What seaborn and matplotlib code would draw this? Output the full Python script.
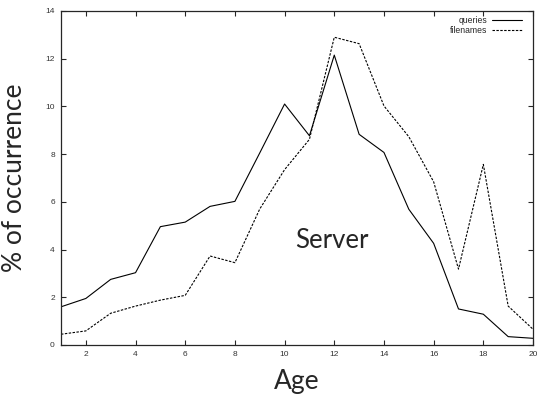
import matplotlib
matplotlib.use("Agg")
import matplotlib.pyplot as plt
import seaborn as sns
import pandas as pd

age = list(range(1, 21))
queries = [1.6, 1.95, 2.75, 3.03, 4.96, 5.15, 5.81, 6.02, 8.05, 10.1,
           8.77, 12.15, 8.83, 8.07, 5.69, 4.26, 1.51, 1.29, 0.35, 0.28]
filenames = [0.45, 0.59, 1.33, 1.63, 1.88, 2.08, 3.73, 3.45, 5.7, 7.35,
             8.62, 12.9, 12.63, 10.02, 8.73, 6.84, 3.18, 7.57, 1.63, 0.66]
series_names = ["queries", "filenames"]
x_ticks = list(range(2, 21, 2))
y_ticks = list(range(0, 15, 2))

df = pd.DataFrame({
    "Age": age * 2,
    "value": queries + filenames,
    "series": [series_names[0]] * len(age) + [series_names[1]] * len(age),
})

sns.set_style("ticks")
fig = plt.figure(figsize=(5.37, 3.98), dpi=100)
ax = fig.add_axes([0.1136, 0.1332, 0.879, 0.8392])

sns.lineplot(data=df, x="Age", y="value", hue="series", style="series",
             palette={"queries": "black", "filenames": "black"},
             dashes={"queries": "", "filenames": (2.2, 1.3)},
             linewidth=0.8, ax=ax)

ax.set_xlim(1, 20)
ax.set_ylim(0, 14)
ax.set_xticks(x_ticks)
ax.set_yticks(y_ticks)
tick_font = {"family": ["Liberation Sans", "DejaVu Sans"], "size": 6}
ax.set_xticklabels([str(t) for t in x_ticks], fontdict=tick_font, color="#333333")
ax.set_yticklabels([str(t) for t in y_ticks], fontdict=tick_font, color="#333333")
ax.tick_params(direction="in", length=3.5, width=0.8, top=True, right=True, pad=4.5)
for s in ax.spines.values():
    s.set_linewidth(0.9)
    s.set_visible(True)

ax.set_xlabel("Age", fontsize=19, family=["Lato", "DejaVu Sans"], labelpad=8)
ax.set_ylabel("% of occurrence", fontsize=19, family=["Lato", "DejaVu Sans"], labelpad=13)

ax.text(11.9, 4.4, "Server", fontsize=18.5, family=["Lato", "DejaVu Sans"],
        ha="center", va="center")

leg = ax.legend(loc="upper right", frameon=False, markerfirst=False,
                bbox_to_anchor=(1.0, 1.018),
                prop={"family": ["Liberation Sans", "DejaVu Sans"], "size": 6.2},
                handlelength=3.5, handletextpad=0.5, labelspacing=0.15,
                borderaxespad=0.9)
for t in leg.get_texts():
    t.set_ha("right")

fig.savefig("out.png", dpi=100)
